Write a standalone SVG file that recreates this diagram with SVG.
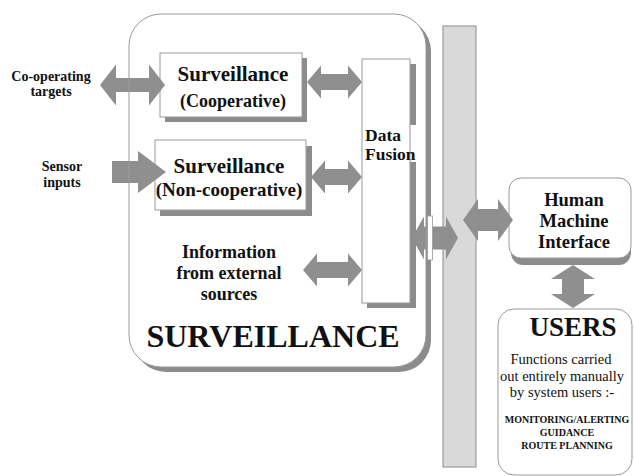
<svg xmlns="http://www.w3.org/2000/svg" width="634" height="476" viewBox="0 0 634 476">
<defs>
<style>
.sh{fill:#8c8c8c}
.bx{fill:#fff;stroke:#9a9a9a;stroke-width:1}
.ar{fill:#8f8f8f}
text{font-family:'Liberation Serif','DejaVu Serif','Noto Serif',serif;fill:#111}
.t{font-weight:bold;text-anchor:middle}
.r{font-weight:normal;text-anchor:middle}
.s{font-weight:bold;text-anchor:start}
</style>
</defs>
<rect x="0" y="0" width="634" height="476" fill="#fff"/>
<g id="surveillance-group">
<rect class="sh" x="134" y="19" width="297" height="353" rx="32"/>
<rect x="129" y="14" width="297" height="353" rx="32" fill="#fff"/>
<text class="t" x="273" y="347" font-size="32">SURVEILLANCE</text>
</g>
<g id="bus">
<rect x="443" y="26" width="33" height="441" fill="#d9d9d9" stroke="#8c8c8c" stroke-width="1"/>
</g>
<g id="surv-coop">
<rect class="sh" x="165" y="58" width="142" height="64"/>
<rect class="bx" x="160" y="53" width="142" height="64"/>
<text class="t" x="233" y="81" font-size="21">Surveillance</text>
<text class="t" x="233" y="107" font-size="18">(Cooperative)</text>
</g>
<g id="surv-noncoop">
<rect class="sh" x="160" y="146" width="152" height="70"/>
<rect class="bx" x="155" y="140" width="151" height="70"/>
<text class="t" x="229" y="173" font-size="21">Surveillance</text>
<text class="t" x="229" y="196" font-size="19">(Non-cooperative)</text>
</g>
<g id="data-fusion">
<rect class="sh" x="367" y="64" width="49" height="244"/>
<rect class="bx" x="362" y="59" width="48" height="244"/>
<rect x="410.5" y="125" width="9" height="37" fill="#fff"/>
<text class="s" x="365" y="141" font-size="17.5">Data</text>
<text class="s" x="365" y="160" font-size="17.5">Fusion</text>
</g>
<g id="co-operating-targets">
<text class="t" x="51" y="81" font-size="14">Co-operating</text>
<text class="t" x="51" y="96" font-size="14">targets</text>
</g>
<g id="sensor-inputs">
<text class="t" x="62" y="171" font-size="14">Sensor</text>
<text class="t" x="62" y="187" font-size="14">inputs</text>
</g>
<g id="external-info">
<text class="t" x="229" y="258" font-size="18">Information</text>
<text class="t" x="229" y="279" font-size="18">from external</text>
<text class="t" x="229" y="300" font-size="18">sources</text>
</g>
<g id="hmi">
<rect class="sh" x="511" y="184" width="120" height="81" rx="12"/>
<rect class="bx" x="509" y="178" width="122" height="80" rx="12"/>
<text class="t" x="574" y="206" font-size="18.5">Human</text>
<text class="t" x="574" y="227" font-size="18.5">Machine</text>
<text class="t" x="574" y="248" font-size="18.5">Interface</text>
</g>
<g id="users">
<rect class="bx" x="498" y="309" width="134" height="166" rx="16"/>
<text class="t" x="573" y="336" font-size="27">USERS</text>
<text class="r" x="561" y="364" font-size="14.5">Functions carried</text>
<text class="r" x="562" y="381" font-size="14.5">out entirely manually</text>
<text class="r" x="562" y="397" font-size="14.5">by system users :-</text>
<text class="t" x="567" y="423" font-size="10">MONITORING/ALERTING</text>
<text class="t" x="567" y="436" font-size="10">GUIDANCE</text>
<text class="t" x="567" y="449" font-size="10">ROUTE PLANNING</text>
</g>
<g id="connectors">
<polygon class="ar" points="100,85 116,64.5 116,78 149,78 149,64.5 165,85 149,105.5 149,92 116,92 116,105.5"/>
<polygon class="ar" points="112,161 138,161 138,151 166,172 138,193 138,183 112,183"/>
<polygon class="ar" points="307,82 321,65.5 321,74 348,74 348,65.5 362,82 348,98.5 348,90 321,90 321,98.5"/>
<polygon class="ar" points="311,177 325,160.5 325,169 348,169 348,160.5 362,177 348,193.5 348,185 325,185 325,193.5"/>
<polygon class="ar" points="303,270 317,253.5 317,262 348,262 348,253.5 362,270 348,286.5 348,278 317,278 317,286.5"/>
<polygon class="ar" points="412,238 424,216.5 424,226.5 446,226.5 446,216.5 458,238 446,259.5 446,249.5 424,249.5 424,259.5"/>
<rect x="427.5" y="216" width="5" height="44" fill="#fff" stroke="#9a9a9a" stroke-width="0.8"/>
<polygon class="ar" points="463,220 478,199 478,209 498,209 498,199 513,220 498,241 498,231 478,231 478,241"/>
<polygon class="ar" points="573,265 595,279 584,279 584,294 595,294 573,308 551,294 562,294 562,279 551,279"/>
</g>
<g id="surveillance-outline">
<rect x="129" y="14" width="297" height="353" rx="32" fill="none" stroke="#9a9a9a" stroke-width="1"/>
</g>
</svg>
